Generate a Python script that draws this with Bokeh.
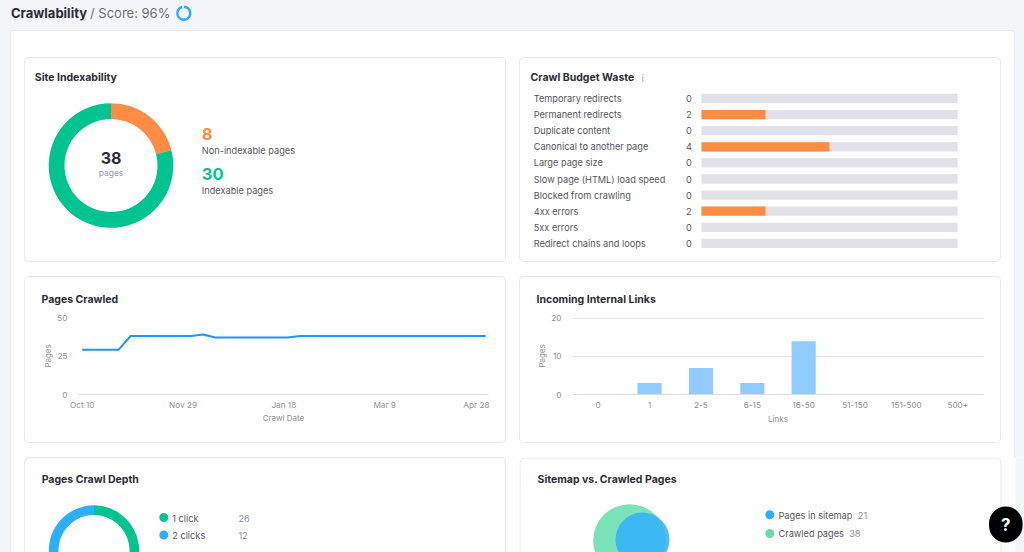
import math
from bokeh.embed import file_html
from bokeh.resources import INLINE
from bokeh.plotting import figure
from bokeh.layouts import column, row
from bokeh.models import Range1d, FactorRange, Label, BoxAnnotation, FixedTicker, Title

# ---- data -------------------------------------------------------------
score = 96
index_labels = ["Non-indexable pages", "Indexable pages"]
index_values = [8, 30]
waste_labels = ["Temporary redirects", "Permanent redirects", "Duplicate content",
                "Canonical to another page", "Large page size", "Slow page (HTML) load speed",
                "Blocked from crawling", "4xx errors", "5xx errors", "Redirect chains and loops"]
waste_values = [0, 2, 0, 4, 0, 0, 0, 2, 0, 0]
crawl_days = [0, 6, 12, 18, 24, 30, 36, 42, 48, 54, 60, 66, 72, 78, 84, 90, 96, 102, 108,
              114, 120, 126, 132, 138, 144, 150, 156, 162, 168, 174, 180, 186, 192, 198, 200]
crawl_pages = [29, 29, 29, 29, 38, 38, 38, 38, 38, 38, 39, 37, 37, 37, 37, 37, 37, 37, 38,
               38, 38, 38, 38, 38, 38, 38, 38, 38, 38, 38, 38, 38, 38, 38, 38]
crawl_tick_days = [0, 50, 100, 150, 195.5]
crawl_tick_labels = ["Oct 10", "Nov 29", "Jan 18", "Mar 9", "Apr 28"]
link_bins = ["0", "1", "2-5", "6-15", "16-50", "51-150", "151-500", "500+"]
link_pages = [0, 3, 7, 3, 14, 0, 0, 0]
depth_labels = ["1 click", "2 clicks"]
depth_values = [26, 12]
sitemap_labels = ["Pages in sitemap", "Crawled pages"]
sitemap_values = [21, 38]

# ---- style ------------------------------------------------------------
FONT = "Inter"
BG = "#f4f5f9"
EDGE = "#e8e9f0"
GREEN = "#00c48f"
ORANGE = "#ff8c43"
BLUE = "#2bb0ff"
INK = "#2b2c36"
TEXT = "#555661"
MUTED = "#8e8f9c"
BODY = 9.2
HEAD = 10.5
CARD_CSS = {"box-shadow": f"inset 0 0 0 1px {EDGE}", "border-radius": "5px", "background-color": "#ffffff"}
OPEN_CARD_CSS = {"box-shadow": f"inset 1px 1px 0 {EDGE}, inset -1px 0 0 {EDGE}",
                 "border-radius": "5px 5px 0 0", "background-color": "#ffffff"}


def canvas(w, h, xr, yr, fill=None, **kw):
    p = figure(width=w, height=h, x_range=xr, y_range=yr, toolbar_location=None,
               output_backend="svg", min_border=0, outline_line_color=None,
               background_fill_color=fill, border_fill_color=fill, **kw)
    p.grid.visible = False
    if fill is None:
        p.styles = CARD_CSS
    return p


def blank(w, h, cx, cy, **kw):
    """Whole-canvas frame, 1 unit = 1 px, origin at (cx, cy) measured from the top-left."""
    return canvas(w, h, Range1d(-cx, w - cx), Range1d(cy - h, cy),
                  x_axis_type=None, y_axis_type=None, **kw)


def text(p, x, y, s, size=BODY, color=TEXT, bold=False, align="left"):
    p.add_layout(Label(x=x, y=p.height - y, x_units="screen", y_units="screen", text=s,
                       text_font=FONT, text_font_size=f"{size}px", text_color=color,
                       text_font_style="bold" if bold else "normal",
                       text_align=align, text_baseline="middle"))


def rings(p, values, colors, inner, outer):
    total = sum(values)
    a = math.pi / 2
    for v, c in zip(values, colors):
        b = a - v / total * 2 * math.pi
        p.annular_wedge(x=0, y=0, inner_radius=inner, outer_radius=outer, start_angle=a,
                        end_angle=b, direction="clock", fill_color=c, line_color=None)
        a = b


def heading(p, s, offset, standoff):
    p.add_layout(Title(text=s, align="left", offset=offset, standoff=standoff, text_font=FONT,
                       text_font_size=f"{HEAD}px", text_font_style="bold", text_color=INK), "above")


# ---- header -----------------------------------------------------------
head = blank(1024, 30, 183.3, 12.7, fill=BG)
rings(head, [score, 100 - score], [BLUE, BG], 5.2, 7.7)
text(head, 10.5, 12.7, "Crawlability", 13, INK, True)
text(head, 89.5, 12.7, "/ Score: 96%", 13, "#6c6e79")

# ---- site indexability ------------------------------------------------
c_index = blank(482, 205, 86.5, 108)
rings(c_index, index_values, [ORANGE, GREEN], 46.5, 62.3)
text(c_index, 10.3, 20, "Site Indexability", HEAD, INK, True)
text(c_index, 86.5, 100.5, str(sum(index_values)), 16, INK, True, "center")
text(c_index, 86.5, 115.7, "pages", 8.5, "#9a9ba8", False, "center")
text(c_index, 177.3, 76, str(index_values[0]), 16.5, ORANGE, True)
text(c_index, 177.3, 92.7, index_labels[0])
text(c_index, 177.3, 116, str(index_values[1]), 16.5, GREEN, True)
text(c_index, 177.3, 132.7, index_labels[1])

# ---- crawl budget waste -----------------------------------------------
UNIT = 32.0
RSTEP = 16.1
wx = Range1d(-182 / UNIT, 300 / UNIT)
wy = Range1d((41 - 205) / RSTEP, 41 / RSTEP)
c_waste = canvas(482, 205, wx, wy, x_axis_type=None, y_axis_type=None)
rows_y = [-i for i in range(len(waste_values))]
full = sum(waste_values)
c_waste.hbar(y=rows_y, left=0, right=[full] * len(rows_y), height=0.58, fill_color="#e0e1e9", line_color=None)
c_waste.hbar(y=rows_y, left=0, right=waste_values, height=0.58, fill_color=ORANGE, line_color=None)
c_waste.text(x=[-167.8 / UNIT] * len(rows_y), y=rows_y, text=waste_labels, text_font={"value": FONT},
             text_font_size=f"{BODY}px", text_color=TEXT, text_baseline="middle")
c_waste.text(x=[-12.6 / UNIT] * len(rows_y), y=rows_y, text=[str(v) for v in waste_values],
             text_font={"value": FONT}, text_font_size=f"{BODY}px", text_color=TEXT,
             text_baseline="middle", text_align="center")
text(c_waste, 11, 20, "Crawl Budget Waste", HEAD, INK, True)
text(c_waste, 122, 20, "i", 10, "#a9aab5")


def axes(p, xlabel):
    for ax in [p.xaxis[0], p.yaxis[0]]:
        ax.major_tick_line_color = None
        ax.minor_tick_line_color = None
        ax.major_label_text_font = FONT
        ax.major_label_text_font_size = "8.2px"
        ax.major_label_text_color = MUTED
        ax.axis_label_text_font = FONT
        ax.axis_label_text_font_size = "8px"
        ax.axis_label_text_font_style = "normal"
        ax.axis_label_text_color = MUTED
    p.xaxis[0].axis_line_color = "#d9dae8"
    p.yaxis[0].axis_line_color = None
    p.xaxis[0].axis_label = xlabel
    p.yaxis[0].axis_label = "Pages"
    p.xaxis[0].major_label_standoff = -1
    p.xaxis[0].axis_label_standoff = 0
    p.yaxis[0].major_label_standoff = 5
    p.yaxis[0].axis_label_standoff = 1


# ---- pages crawled ----------------------------------------------------
DAY = 2.015
c_crawl = canvas(482, 167, Range1d(-3.7 / DAY, 406 / DAY), Range1d(0, 50))
c_crawl.min_border_left, c_crawl.min_border_right = 54, 18
c_crawl.min_border_top, c_crawl.min_border_bottom = 41, 49
axes(c_crawl, "Crawl Date")
c_crawl.xaxis[0].ticker = FixedTicker(ticks=crawl_tick_days)
c_crawl.xaxis[0].major_label_overrides = dict(zip(crawl_tick_days, crawl_tick_labels))
c_crawl.yaxis[0].ticker = FixedTicker(ticks=[0, 25, 50])
c_crawl.line(crawl_days, crawl_pages, line_color="#1e95fb", line_width=2, line_join="round")
heading(c_crawl, "Pages Crawled", -37, 24)

# ---- incoming internal links ------------------------------------------
c_links = canvas(482, 167, FactorRange(factors=link_bins), Range1d(0, 20.26))
c_links.min_border_left, c_links.min_border_right = 53, 18
c_links.min_border_top, c_links.min_border_bottom = 40, 49
axes(c_links, "Links")
c_links.xaxis[0].major_label_standoff = 1
c_links.xaxis[0].axis_label_standoff = 3
c_links.yaxis[0].ticker = FixedTicker(ticks=[0, 10, 20])
c_links.ygrid.visible = True
c_links.ygrid[0].grid_line_color = "#e6e6f1"
c_links.ygrid[0].ticker = FixedTicker(ticks=[10, 20])
c_links.vbar(x=link_bins, top=link_pages, width=0.47, fill_color="#90ccff", line_color=None)
heading(c_links, "Incoming Internal Links", -36, 24)

# ---- pages crawl depth ------------------------------------------------
c_depth = blank(482, 95, 69.5, 93)
c_depth.styles = OPEN_CARD_CSS
rings(c_depth, depth_values, [GREEN, BLUE], 35.5, 45.2)
text(c_depth, 17.2, 22, "Pages Crawl Depth", HEAD, INK, True)
c_depth.scatter(x=[69.8, 69.8], y=[33, 15.5], size=9, fill_color=[GREEN, BLUE], line_color=None)
for lbl, val, y in zip(depth_labels, depth_values, [60.5, 77.5]):
    text(c_depth, 147.7, y, lbl)
    text(c_depth, 214, y, str(val), BODY, MUTED)

# ---- sitemap vs crawled pages -----------------------------------------
R_UNIT = 27.0 / math.sqrt(sitemap_values[0])
c_site = blank(505, 95, 110, 83, fill="#ffffff")
c_site.add_layout(BoxAnnotation(left=0.5, right=481.5, top=94.5, bottom=-20, left_units="screen",
                                right_units="screen", top_units="screen", bottom_units="screen",
                                fill_color="#ffffff", fill_alpha=1, line_color=EDGE, line_alpha=1, line_width=1,
                                border_radius=5, level="underlay"))
c_site.add_layout(BoxAnnotation(left=496, right=505, top=95, bottom=0, left_units="screen",
                                right_units="screen", top_units="screen", bottom_units="screen",
                                fill_color=BG, fill_alpha=1, line_color=None, level="underlay"))
c_site.circle(x=0, y=0, radius=R_UNIT * math.sqrt(sitemap_values[1]), fill_color="#7be3b9", line_color=None)
c_site.circle(x=13, y=1, radius=R_UNIT * math.sqrt(sitemap_values[0]), fill_color="#33b3fd",
              fill_alpha=0.88, line_color=None)
text(c_site, 18, 22, "Sitemap vs. Crawled Pages", HEAD, INK, True)
c_site.scatter(x=[140.3, 140.3], y=[25.7, 7], size=9, fill_color=[BLUE, "#63dfab"], line_color=None)
for lbl, val, y, vx in zip(sitemap_labels, sitemap_values, [57.5, 76], [338.3, 329.7]):
    text(c_site, 259, y, lbl)
    text(c_site, vx, y, str(val), BODY, MUTED)
c_site.add_layout(Label(x=486.3, y=95 - 67, x_units="screen", y_units="screen", text="?", text_color="#ffffff",
                        text_font=FONT, text_font_size="17px", text_font_style="bold",
                        text_align="center", text_baseline="middle", background_fill_color="#000000",
                        border_radius=17, padding=(12, 8)))

# ---- page -------------------------------------------------------------
row1 = row(c_index, c_waste, spacing=13)
row2 = row(c_crawl, c_links, spacing=13)
row3 = row(c_depth, c_site, spacing=13)
panel = column(row1, row2, row3, spacing=14, width=1005, margin=(0, 0, 0, 10),
               styles={"background-color": "#ffffff", "border-top": f"1px solid {EDGE}",
                       "border-left": f"1px solid {EDGE}", "border-right": f"1px solid {EDGE}",
                       "border-radius": "4px 4px 0 0",
                       "padding-top": "26px", "padding-left": "13px", "box-sizing": "border-box"})
page = column(head, panel, spacing=0, width=1024, height=552, styles={"background-color": BG})

open("out.html", "w").write(file_html(page, INLINE))
